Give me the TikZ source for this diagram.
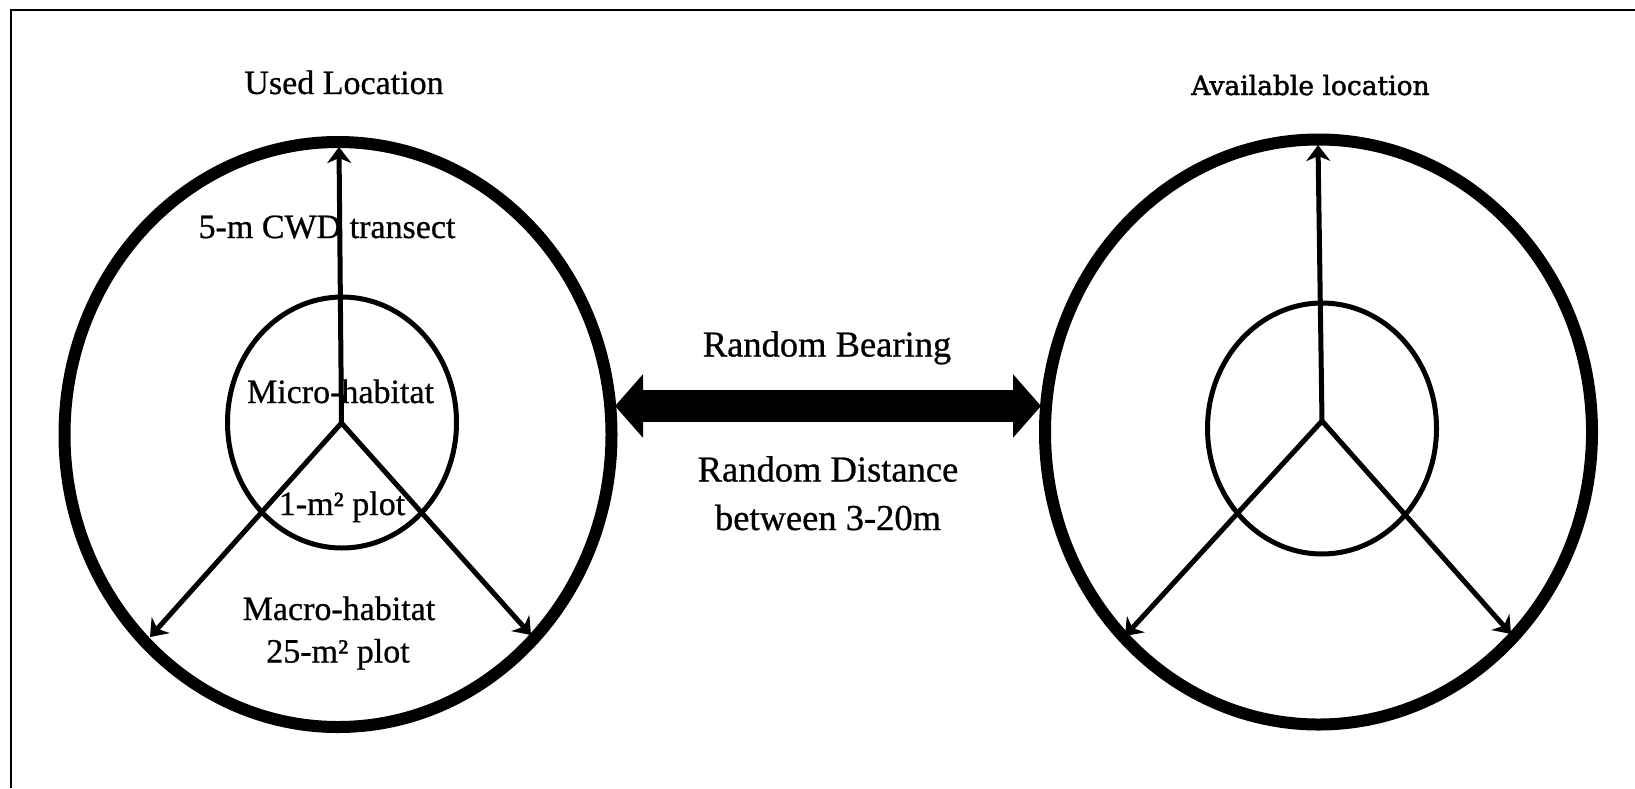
\documentclass[tikz,border=0pt]{standalone}
\usepackage{fontspec}
\setmainfont{Liberation Serif}[FakeBold=0.7]
\newfontfamily\widefont{DejaVu Serif}[FakeBold=1.6]
\usetikzlibrary{arrows.meta,shapes.geometric}

\begin{document}
\begin{tikzpicture}[x=1pt,y=-1pt,
  plotring/.style={draw, ellipse, line width=12pt, inner sep=0pt,
                   minimum width=547pt, minimum height=585pt},
  microring/.style={draw, ellipse, line width=5pt, inner sep=0pt,
                    minimum width=229pt, minimum height=251pt},
  spoke/.style={line width=5pt, -{Stealth[length=16pt,width=24pt,inset=5pt]}},
  lbl/.style={font=\fontsize{34}{40}\selectfont, inner sep=0pt, anchor=base},
  midlbl/.style={font=\fontsize{36.5}{44}\selectfont, inner sep=0pt, anchor=base},
  bigarrow/.style={line width=32pt,
                   {Triangle[length=28pt,width=62pt]}-{Triangle[length=28pt,width=62pt]}},
  frameline/.style={line width=2.5pt}
]
\useasboundingbox (0,0) rectangle (1635,788);

% frame (top and left edges)
\coordinate (fTL) at (11,10);
\coordinate (fTR) at (1635,10);
\coordinate (fBL) at (11,788);
\draw[frameline] (fTR) -- (fTL) -- (fBL);

% ---- used location ----
\node[plotring] (usedOuter) at (338,434.5) {};
\node[microring] (usedInner) at (342,422.5) {};
\coordinate (uC)  at (341.5,423);
\coordinate (uUp) at (339,147);
\coordinate (uDL) at (150,637);
\coordinate (uDR) at (531,635);
\draw[spoke] (uC) -- (uUp);
\draw[spoke] (uC) -- (uDL);
\draw[spoke] (uC) -- (uDR);

\node[lbl] (usedTitle) at (344,94) {Used Location};
\node[lbl] (cwd)   at (327,238) {5-m CWD transect};
\node[lbl] (micro) at (340.5,403) {Micro-habitat};
\node[lbl] (plot1) at (342,515) {1-m² plot};
\node[lbl] (macro) at (339,620) {Macro-habitat};
\node[lbl] (plot25) at (338,662.5) {25-m² plot};

% ---- available location ----
\node[plotring] (availOuter) at (1318.5,432) {};
\node[microring] (availInner) at (1322,428.5) {};
\coordinate (aC)  at (1322,421);
\coordinate (aUp) at (1318,145);
\coordinate (aDL) at (1125,636);
\coordinate (aDR) at (1511,634);
\draw[spoke] (aC) -- (aUp);
\draw[spoke] (aC) -- (aDL);
\draw[spoke] (aC) -- (aDR);

\node[inner sep=0pt, anchor=base, font=\widefont\fontsize{26.5}{32}\selectfont]
  (availTitle) at (1310.5,95) {Available location};

% ---- link between the two locations ----
\coordinate (linkL) at (615,406);
\coordinate (linkR) at (1041,406);
\draw[bigarrow] (linkL) -- (linkR);

\node[midlbl] (bearing)  at (827,356.5) {Random Bearing};
\node[midlbl] (distance) at (828,481.5) {Random Distance};
\node[midlbl] (range)    at (828,530) {between 3-20m};
\end{tikzpicture}
\end{document}
